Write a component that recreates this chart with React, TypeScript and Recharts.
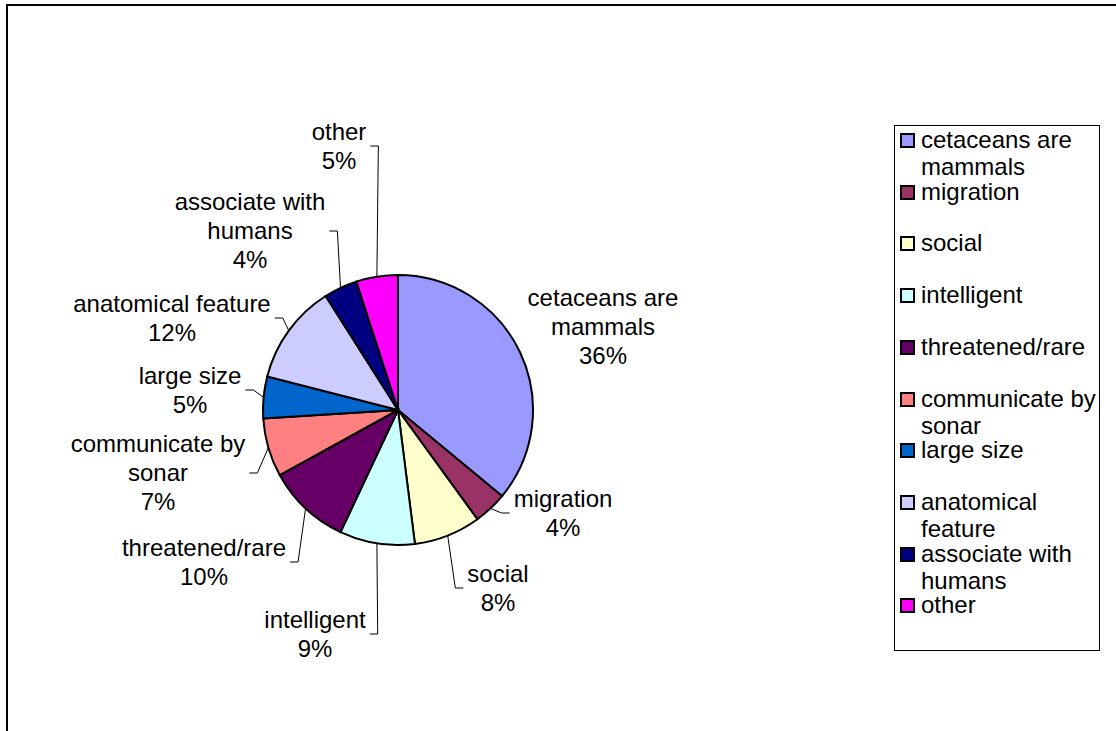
import { PieChart, Pie, Cell, Legend } from "recharts";

const categories = [
  "cetaceans are mammals",
  "migration",
  "social",
  "intelligent",
  "threatened/rare",
  "communicate by sonar",
  "large size",
  "anatomical feature",
  "associate with humans",
  "other",
];
const shares = [36, 4, 8, 9, 10, 7, 5, 12, 4, 5];
const sliceColors = [
  "#9999FF",
  "#993366",
  "#FFFFCC",
  "#CCFFFF",
  "#660066",
  "#FF8080",
  "#0066CC",
  "#CCCCFF",
  "#000080",
  "#FF00FF",
];
// how each name wraps next to the pie and in the legend
const labelLines = [
  ["cetaceans are", "mammals"],
  ["migration"],
  ["social"],
  ["intelligent"],
  ["threatened/rare"],
  ["communicate by", "sonar"],
  ["large size"],
  ["anatomical feature"],
  ["associate with", "humans"],
  ["other"],
];
const legendLines = [
  ["cetaceans are", "mammals"],
  ["migration"],
  ["social"],
  ["intelligent"],
  ["threatened/rare"],
  ["communicate by", "sonar"],
  ["large size"],
  ["anatomical", "feature"],
  ["associate with", "humans"],
  ["other"],
];

const data = categories.map((name, i) => ({ name, value: shares[i] }));

// label block centre relative to the pie centre, and whether a leader line is drawn
const labelPlacement = [
  { dx: 205, dy: -83, leader: false },
  { dx: 165, dy: 103, leader: true },
  { dx: 100, dy: 178, leader: true },
  { dx: -83, dy: 224, leader: true },
  { dx: -194, dy: 152, leader: true },
  { dx: -240, dy: 63, leader: true },
  { dx: -208, dy: -20, leader: true },
  { dx: -226, dy: -92, leader: true },
  { dx: -148, dy: -179, leader: true },
  { dx: -59, dy: -264, leader: true },
];

const FONT = "'Liberation Sans', Arial, sans-serif";
const FONT_SIZE = 24;
const LINE = 29;
const SLOT = 51.7;
const RADIAN = Math.PI / 180;

let measureCtx: CanvasRenderingContext2D | null = null;
function textWidth(s: string) {
  if (!measureCtx) measureCtx = document.createElement("canvas").getContext("2d");
  if (!measureCtx) return s.length * 12;
  measureCtx.font = `${FONT_SIZE}px ${FONT}`;
  return measureCtx.measureText(s).width;
}

function renderLabel(props: any) {
  const { cx, cy, midAngle, outerRadius, index, percent } = props;
  const place = labelPlacement[index];
  const lines = [...labelLines[index], `${Math.round(percent * 100)}%`];
  const bx = cx + place.dx;
  const by = cy + place.dy;
  const top = by - ((lines.length - 1) * LINE) / 2;
  const px = cx + outerRadius * Math.cos(-midAngle * RADIAN);
  const py = cy + outerRadius * Math.sin(-midAngle * RADIAN);
  const half = Math.max(...lines.map(textWidth)) / 2;

  let leader = null;
  if (place.leader) {
    const onLeft = bx < px;
    const end = onLeft ? bx + half + 4 : bx - half - 4;
    const elbow = onLeft ? end + 8 : end - 8;
    leader = (
      <polyline
        points={`${px},${py} ${elbow},${by} ${end},${by}`}
        fill="none"
        stroke="#000"
        strokeWidth={1}
      />
    );
  }

  return (
    <g key={`label-${index}`}>
      {leader}
      <text textAnchor="middle" fontFamily={FONT} fontSize={FONT_SIZE} fill="#000">
        {lines.map((l, i) => (
          <tspan key={i} x={bx} y={top + i * LINE + 8}>
            {l}
          </tspan>
        ))}
      </text>
    </g>
  );
}

function renderLegend() {
  return (
    <div
      style={{
        width: 204,
        height: 524,
        border: "1px solid #000",
        position: "relative",
        background: "#fff",
        fontFamily: FONT,
        fontSize: FONT_SIZE,
        color: "#000",
      }}
    >
      {categories.map((c, i) => (
        <div key={c} style={{ position: "absolute", left: 0, top: i * SLOT, width: 204 }}>
          <span
            style={{
              position: "absolute",
              left: 5,
              top: 7,
              width: 11,
              height: 11,
              border: "2px solid #000",
              background: sliceColors[i],
            }}
          />
          <div style={{ position: "absolute", left: 26, top: 0, lineHeight: "27px", whiteSpace: "nowrap" }}>
            {legendLines[i].map((l) => (
              <div key={l}>{l}</div>
            ))}
          </div>
        </div>
      ))}
    </div>
  );
}

export default function App() {
  return (
    <div
      style={{
        position: "fixed",
        left: 0,
        top: 0,
        width: 1116,
        height: 731,
        overflow: "hidden",
        background: "#fff",
        fontFamily: FONT,
      }}
    >
      <div
        style={{
          position: "absolute",
          left: 6,
          top: 4,
          width: 1200,
          height: 800,
          border: "2px solid #000",
        }}
      />
      <div style={{ position: "absolute", left: 0, top: 0 }}>
        <PieChart width={1116} height={731} margin={{ top: 0, right: 0, bottom: 0, left: 0 }}>
          <Pie
            data={data}
            dataKey="value"
            nameKey="name"
            cx={398}
            cy={410}
            outerRadius={135}
            startAngle={90}
            endAngle={-270}
            stroke="#000"
            strokeWidth={2}
            label={renderLabel}
            labelLine={false}
            isAnimationActive={false}
          >
            {data.map((d, i) => (
              <Cell key={d.name} fill={sliceColors[i]} />
            ))}
          </Pie>
          <Legend
            layout="vertical"
            align="right"
            verticalAlign="top"
            content={renderLegend}
            wrapperStyle={{ position: "absolute", left: 894, top: 125, width: 206, height: 526 }}
          />
        </PieChart>
      </div>
    </div>
  );
}
